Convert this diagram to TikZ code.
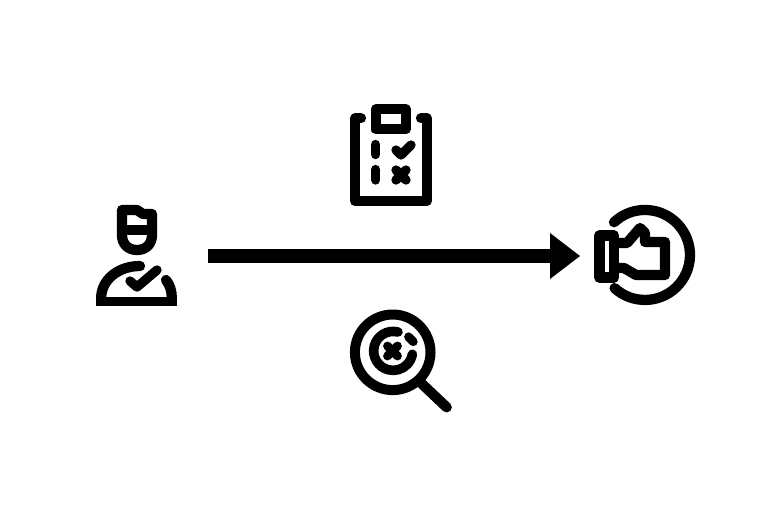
\documentclass[tikz,border=0pt]{standalone}
\tikzset{
  glyph/.style={draw=black,line width=7.7pt,line cap=round,line join=round},
  thin glyph/.style={glyph,line width=7pt},
}
\begin{document}
\begin{tikzpicture}[x=0.75pt,y=-0.75pt]
\useasboundingbox (0,0) rectangle (781,512);
% arrow
\coordinate (arrowstart) at (208,256);
\coordinate (arrowneck) at (551,256);
\coordinate (arrowtip) at (580,256);
\draw[line width=11.2pt,black] (arrowstart) -- (arrowneck);
\fill[black] (550,233) -- (arrowtip) -- (550,279) -- cycle;
% person
\draw[glyph] (122,210) -- (137,210) -- (143,214) -- (152,214) -- (152,235)
  .. controls (152,244) and (146,250) .. (137,250)
  .. controls (128,250) and (122,244) .. (122,235) -- cycle;
\draw[glyph] (122,230) -- (152,230);
\draw[glyph] (140,266) .. controls (118,266) and (101.2,280) .. (101.2,298);
\draw[glyph,line cap=butt] (101.2,298) -- (101.2,302);
\draw[glyph] (166,280) .. controls (170,285) and (171.8,291) .. (171.8,298);
\draw[glyph,line cap=butt] (171.8,298) -- (171.8,302);
\fill[black] (96,296.5) rectangle (177,306);
\draw[thin glyph] (130,281) -- (137,287) -- (157,270);
% clipboard
\draw[glyph] (361,118.3) -- (355,118.3) -- (355,201) -- (426.7,201) -- (426.7,118.3) -- (421,118.3);
\draw[glyph] (375.7,109.3) rectangle (406,129.3);
\draw[thin glyph] (375.7,144.5) -- (375.7,154.5);
\draw[thin glyph] (375.7,169.5) -- (375.7,180);
\draw[thin glyph] (396,150) -- (401,155) -- (411,145);
\draw[thin glyph] (396,170) -- (406,180);
\draw[thin glyph] (406,170) -- (396,180);
% magnifier
\draw[glyph,line width=7.5pt] (392.7,352.3) circle (37.8);
\draw[glyph] (421,383) -- (446.7,407.3);
\draw[glyph,line width=7.2pt] (398,332) arc (-75.6:-350:19.5);
\draw[glyph,line width=6.6pt] (408.5,336.8) -- (413.3,341.7);
\draw[glyph,line width=6.6pt] (387.5,346) -- (397.5,356);
\draw[glyph,line width=6.6pt] (397.5,346) -- (387.5,356);
% thumb
\draw[glyph] (599.5,235.5) rectangle (614,277.5);
\draw[glyph] (614,243) -- (627,243) -- (640,228) -- (645,233) -- (645,242) -- (665,242)
  -- (665,275) -- (636,275) -- (624,268) -- (614,268);
\draw[glyph] (614,222.3) arc (-133.5:132.5:45);
\end{tikzpicture}
\end{document}
